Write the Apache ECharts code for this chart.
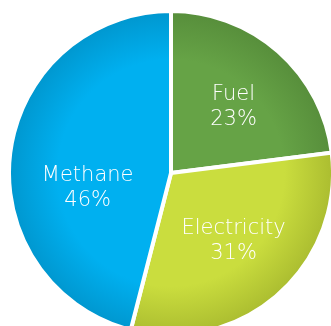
<!DOCTYPE html>
<html>
<head>
<meta charset="utf-8">
<script src="https://cdn.jsdelivr.net/npm/echarts@6/dist/echarts.min.js"></script>
<style>
  html, body { margin: 0; padding: 0; background: #ffffff; }
  #chart { width: 331px; height: 326px; }
</style>
</head>
<body>
<div id="chart"></div>
<script>
// Energy sources, share of total (%)
const categories = ['Fuel', 'Electricity', 'Methane'];
const shares = [23, 31, 46];

// Slice shading: light centre tone, darker rim tone
const centreColors = ['#66a346', '#cadd3e', '#00b0f0'];
const rimColors = ['#578e3b', '#abbd30', '#0097cf'];
// Nudges for the inside labels
const labelOffsets = [[7, -3], [7, 5], [0, 26]];

const cx = 171, cy = 173, R = 162;

const chart = echarts.init(document.getElementById('chart'), null, { renderer: 'canvas' });

const data = categories.map((name, i) => ({
  name,
  value: shares[i],
  itemStyle: {
    color: {
      type: 'radial', x: cx, y: cy, r: R, global: true,
      colorStops: [
        { offset: 0, color: centreColors[i] },
        { offset: 0.7, color: centreColors[i] },
        { offset: 1, color: rimColors[i] }
      ]
    }
  },
  label: { offset: labelOffsets[i] }
}));

chart.setOption({
  animation: false,
  series: [{
    type: 'pie',
    center: [cx, cy],
    radius: [0, R],
    startAngle: 90,
    clockwise: true,
    avoidLabelOverlap: false,
    itemStyle: { borderColor: '#ffffff', borderWidth: 4 },
    label: {
      show: true,
      position: 'inside',
      formatter: p => p.name + '\n' + p.value + '%',
      color: '#ffffff',
      fontFamily: 'DejaVu Sans',
      fontWeight: 200,
      fontSize: 21,
      lineHeight: 25,
      align: 'center'
    },
    labelLine: { show: false },
    emphasis: { disabled: true },
    data
  }]
});
</script>
</body>
</html>
